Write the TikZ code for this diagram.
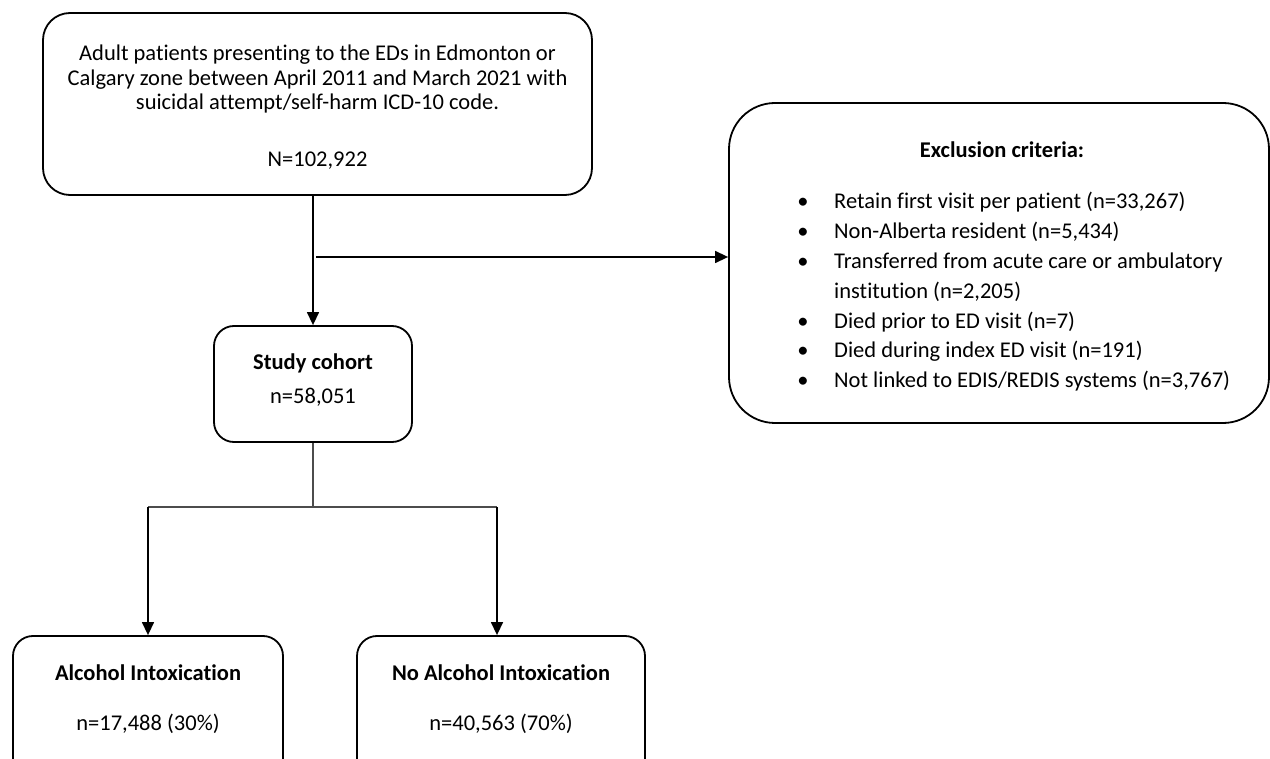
\documentclass[tikz,border=0pt]{standalone}
\usepackage{fontspec}
\setmainfont{Carlito}[Ligatures={NoCommon}]
\usetikzlibrary{arrows.meta,calc}
\begin{document}
\begin{tikzpicture}[x=1pt,y=-1pt,
  box/.style={draw=black,line width=1.8pt,rounded corners=#1,inner sep=0pt},
  txt/.style={anchor=base,inner sep=0pt,font=\fontsize{22.5}{24}\selectfont},
  btxt/.style={txt,font=\fontsize{22.5}{24}\selectfont\bfseries},
  conn/.style={draw=black,line width=1.4pt},
  split/.style={draw=black!70,line width=1.2pt},
  arr/.style={-{Triangle[width=12pt,length=13pt]}}
]
\useasboundingbox (0,0) rectangle (1270,759);
\clip (0,0) rectangle (1270,759);
% boxes
\node[box=27pt,minimum width=549pt,minimum height=182pt] (top) at (317.5,104) {};
\node[box=46pt,minimum width=540pt,minimum height=320pt] (excl) at (999,263) {};
\node[box=20pt,minimum width=198pt,minimum height=116pt] (study) at (313,384) {};
\node[box=20pt,minimum width=270pt,minimum height=150pt] (alc) at (148,711) {};
\node[box=20pt,minimum width=288pt,minimum height=150pt] (noalc) at (501,711) {};
% texts
\node[txt] (t1) at (317.5,61) {Adult patients presenting to the EDs in Edmonton or};
\node[txt] (t2) at (317.5,85.5) {Calgary zone between April 2011 and March 2021 with};
\node[txt] (t3) at (317.5,110) {suicidal attempt/self-harm ICD-10 code.};
\node[txt] (t4) at (317.5,167) {N=102,922};
\node[btxt] (e0) at (1002,158) {Exclusion criteria:};
\foreach \i/\s in {0/{Retain first visit per patient (n=33,267)},
                   1/{Non-Alberta resident (n=5,434)},
                   2/{Transferred from acute care or ambulatory},
                   4/{Died prior to ED visit (n=7)},
                   5/{Died during index ED visit (n=191)},
                   6/{Not linked to EDIS/REDIS systems (n=3,767)}}{
  \node[txt,anchor=base west] (e\i) at (834,209+29.8*\i) {\s};
  \node[txt] (b\i) at (803,209+29.8*\i) {\textbullet};
}
\node[txt,anchor=base west] (e3) at (834,209+29.8*3) {institution (n=2,205)};
\node[btxt] (s1) at (313,370) {Study cohort};
\node[txt] (s2) at (313,404) {n=58,051};
\node[btxt] (a1) at (148,680) {Alcohol Intoxication};
\node[txt] (a2) at (148,730) {n=17,488 (30\%)};
\node[btxt] (n1) at (501,680) {No Alcohol Intoxication};
\node[txt] (n2) at (501,730) {n=40,563 (70\%)};
% connectors
\coordinate (br) at (316,257);
\coordinate (sp) at (313,507);
\coordinate (spl) at (148,507);
\coordinate (spr) at (497,507);
\draw[conn,arr] (study.north |- top.south) -- (study.north);
\draw[conn,arr] (br) -- (br -| excl.west);
\draw[split] (study.south) -- (sp);
\draw[split] (spl) -- (spr);
\draw[conn,arr] (spl) -- (spl |- alc.north);
\draw[conn,arr] (spr) -- (spr |- noalc.north);
\end{tikzpicture}
\end{document}
